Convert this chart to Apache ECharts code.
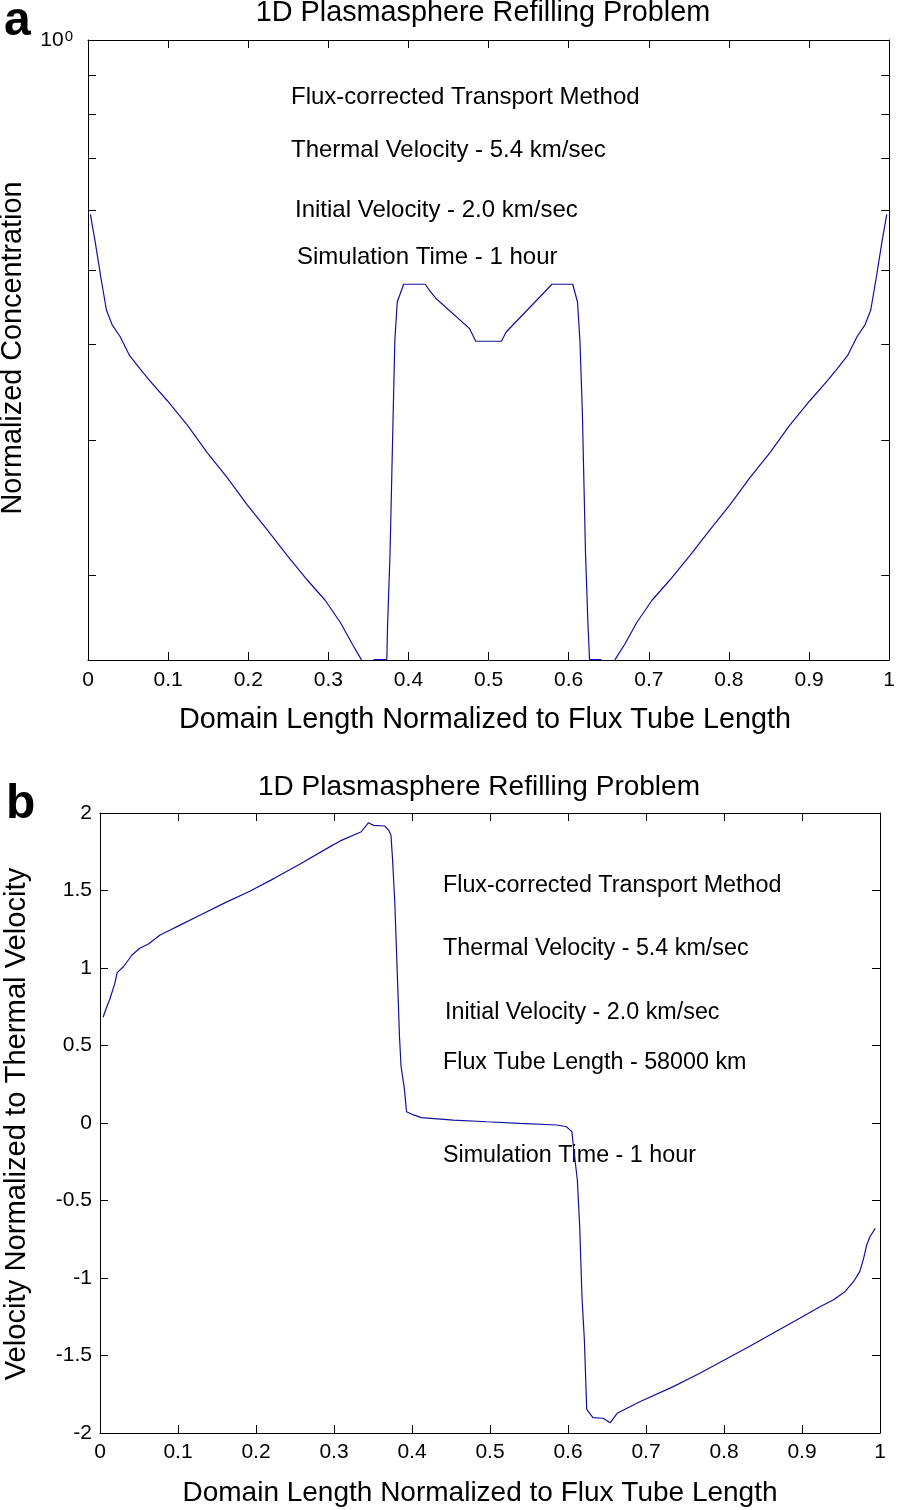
<!DOCTYPE html>
<html>
<head>
<meta charset="utf-8">
<title>1D Plasmasphere Refilling Problem</title>
<script src="https://cdn.jsdelivr.net/npm/echarts@6/dist/echarts.min.js"></script>
<style>
  html, body { margin: 0; padding: 0; background: #fff; }
  #main { width: 898px; height: 1510px; }
</style>
</head>
<body>
<div id="main"></div>
<script>
// panel a: normalized concentration along the flux tube (log scale)
const concX = [
  0.003, 0.009, 0.016, 0.023, 0.030, 0.040, 0.052, 0.065, 0.077, 0.099,
  0.124, 0.149, 0.174, 0.199, 0.224, 0.249, 0.274, 0.296, 0.315, 0.330,
  0.341, 0.350, 0.357, 0.373,
  0.374, 0.377, 0.379, 0.381, 0.383, 0.386, 0.394, 0.421, 0.426, 0.434,
  0.476, 0.484, 0.516, 0.522, 0.572, 0.579, 0.605, 0.611, 0.614, 0.617,
  0.619, 0.621, 0.624, 0.626, 0.640, 0.648, 0.658,
  0.670, 0.685, 0.704, 0.726, 0.751, 0.776, 0.801, 0.826, 0.851, 0.876,
  0.901, 0.923, 0.935, 0.948, 0.960, 0.970, 0.977, 0.984, 0.991, 0.997
];
const concY = [
  0.592, 0.545, 0.490, 0.444, 0.425, 0.410, 0.387, 0.372, 0.359, 0.338,
  0.314, 0.289, 0.268, 0.247, 0.229, 0.212, 0.197, 0.1855, 0.1735, 0.1625,
  0.1553, 0.120, 0.1552, 0.1552,
  0.173, 0.2136, 0.2644, 0.3283, 0.4055, 0.4548, 0.4798, 0.4798, 0.4712, 0.460,
  0.4202, 0.4042, 0.4042, 0.4156, 0.4712, 0.4798, 0.4798, 0.4548, 0.4055, 0.3283,
  0.2644, 0.2136, 0.173, 0.1552, 0.1552, 0.120, 0.1553,
  0.1625, 0.1735, 0.1855, 0.197, 0.212, 0.229, 0.247, 0.268, 0.289, 0.314,
  0.338, 0.359, 0.372, 0.387, 0.410, 0.425, 0.444, 0.490, 0.545, 0.592
];
const concMin = 0.155;
const concMax = 1;
const concTicks = [0.2, 0.3, 0.4, 0.5, 0.6, 0.7, 0.8, 0.9, 1];

// panel b: velocity normalized to thermal velocity
const velX = [
  0.004, 0.008, 0.013, 0.019, 0.022, 0.030, 0.041, 0.051, 0.062, 0.077,
  0.090, 0.100, 0.128, 0.160, 0.192, 0.224, 0.256, 0.295, 0.308, 0.335,
  0.344, 0.351, 0.365, 0.370, 0.373, 0.375, 0.378, 0.380, 0.382, 0.384,
  0.386, 0.390, 0.393, 0.402, 0.412, 0.453, 0.496, 0.538, 0.586, 0.598,
  0.605, 0.607, 0.612, 0.615, 0.618, 0.621, 0.623, 0.624, 0.632, 0.645,
  0.654, 0.663, 0.692, 0.735, 0.769, 0.833, 0.897, 0.923, 0.940, 0.955,
  0.966, 0.974, 0.979, 0.983, 0.987, 0.994
];
const velY = [
  0.682, 0.740, 0.805, 0.901, 0.970, 1.008, 1.084, 1.127, 1.155, 1.213,
  1.245, 1.270, 1.340, 1.420, 1.495, 1.580, 1.670, 1.783, 1.820, 1.879,
  1.937, 1.920, 1.916, 1.890, 1.858, 1.708, 1.417, 1.127, 0.841, 0.553,
  0.363, 0.230, 0.073, 0.052, 0.035, 0.019, 0.008, -0.002, -0.013, -0.024,
  -0.056, -0.153, -0.368, -0.669, -1.131, -1.400, -1.701, -1.847, -1.901, -1.905,
  -1.934, -1.873, -1.798, -1.701, -1.615, -1.440, -1.260, -1.185, -1.142, -1.088,
  -1.024, -0.959, -0.873, -0.787, -0.734, -0.680
];
const velMin = -2;
const velMax = 2;
const velStep = 0.5;

const xMin = 0;
const xMax = 1;
const xStep = 0.1;

const notesA = [
  "Flux-corrected Transport Method",
  "Thermal Velocity - 5.4 km/sec",
  "Initial Velocity - 2.0 km/sec",
  "Simulation Time - 1 hour"
];
const notesB = [
  "Flux-corrected Transport Method",
  "Thermal Velocity - 5.4 km/sec",
  "Initial Velocity - 2.0 km/sec",
  "Flux Tube Length - 58000 km",
  "Simulation Time - 1 hour"
];

const FONT = '"Liberation Sans", Arial, Helvetica, sans-serif';
const LINE_COLOR = "#1010a0";

// matlab-like box axes: ticks inside, no grid lines
function boxAxis(opts) {
  return Object.assign({
    type: "value",
    axisLine: { show: true, onZero: false, lineStyle: { color: "#000", width: 1 } },
    axisTick: { show: true, inside: true, length: 8, lineStyle: { color: "#000", width: 1 } },
    axisLabel: { show: false },
    splitLine: { show: false }
  }, opts);
}

function tickLabel(margin) {
  return { show: true, color: "#000", fontSize: 21, fontFamily: FONT, margin: margin };
}

function text(str, x, y, font, extra) {
  return Object.assign({
    type: "text",
    x: x,
    y: y,
    style: {
      text: str,
      font: font,
      fill: "#000",
      align: "left",
      textAlign: "left",
      verticalAlign: "middle",
      textVerticalAlign: "middle"
    }
  }, extra || {});
}

function centered(str, x, y, font, extra) {
  const t = text(str, x, y, font, extra);
  t.style.align = "center";
  t.style.textAlign = "center";
  return t;
}

const BIG_A = "28.8px " + FONT;
const BIG_B = "28px " + FONT;
const YNAME_B = "29.2px " + FONT;
const NOTE_A = "24px " + FONT;
const NOTE_B = "23.3px " + FONT;
const LETTER = "bold 48px " + FONT;

const logTicks = concTicks.map((v) => Math.log10(v));

const option = {
  animation: false,
  backgroundColor: "#fff",
  grid: [
    { left: 88, top: 40, width: 802, height: 620 },
    { left: 100, top: 813, width: 780, height: 620 }
  ],
  xAxis: [
    boxAxis({ gridIndex: 0, min: xMin, max: xMax, interval: xStep, position: "bottom", axisLabel: tickLabel(10) }),
    boxAxis({ gridIndex: 0, min: xMin, max: xMax, interval: xStep, position: "top" }),
    boxAxis({ gridIndex: 1, min: xMin, max: xMax, interval: xStep, position: "bottom", axisLabel: tickLabel(9) }),
    boxAxis({ gridIndex: 1, min: xMin, max: xMax, interval: xStep, position: "top" })
  ],
  yAxis: [
    boxAxis({
      gridIndex: 0,
      min: Math.log10(concMin),
      max: Math.log10(concMax),
      position: "left",
      axisTick: { show: true, inside: true, length: 8, lineStyle: { color: "#000" }, customValues: logTicks },
      axisLabel: {
        show: true,
        customValues: [0],
        margin: 15,
        formatter: () => "{b|10}{s|0}",
        rich: {
          b: { fontSize: 21, fontFamily: FONT, color: "#000", verticalAlign: "bottom", lineHeight: 21 },
          s: { fontSize: 15, fontFamily: FONT, color: "#000", verticalAlign: "top", lineHeight: 15, padding: [0, 0, 12, 1] }
        }
      }
    }),
    boxAxis({
      gridIndex: 0,
      min: Math.log10(concMin),
      max: Math.log10(concMax),
      position: "right",
      axisTick: { show: true, inside: true, length: 8, lineStyle: { color: "#000" }, customValues: logTicks }
    }),
    boxAxis({ gridIndex: 1, min: velMin, max: velMax, interval: velStep, position: "left", axisLabel: tickLabel(8) }),
    boxAxis({ gridIndex: 1, min: velMin, max: velMax, interval: velStep, position: "right" })
  ],
  series: [
    {
      type: "line",
      xAxisIndex: 0,
      yAxisIndex: 0,
      data: concX.map((x, i) => [x, Math.log10(concY[i])]),
      showSymbol: false,
      clip: true,
      lineStyle: { color: LINE_COLOR, width: 1.2 }
    },
    {
      type: "line",
      xAxisIndex: 2,
      yAxisIndex: 2,
      data: velX.map((x, i) => [x, velY[i]]),
      showSymbol: false,
      clip: true,
      lineStyle: { color: LINE_COLOR, width: 1.2 }
    }
  ],
  graphic: [
    text("a", 4, 22, LETTER),
    centered("1D Plasmasphere Refilling Problem", 483, 13, BIG_A),
    centered("Domain Length Normalized to Flux Tube Length", 485, 720, BIG_A),
    centered("Normalized Concentration", 13, 348, BIG_A, { rotation: Math.PI / 2 }),
    text(notesA[0], 291, 97, NOTE_A),
    text(notesA[1], 291, 150, NOTE_A),
    text(notesA[2], 295, 210, NOTE_A),
    text(notesA[3], 297, 257, NOTE_A),

    text("b", 6, 805, LETTER),
    centered("1D Plasmasphere Refilling Problem", 479, 787, BIG_B),
    centered("Domain Length Normalized to Flux Tube Length", 480, 1493, BIG_B),
    centered("Velocity Normalized to Thermal Velocity", 17, 1124, YNAME_B, { rotation: Math.PI / 2 }),
    text(notesB[0], 443, 886, NOTE_B),
    text(notesB[1], 443, 949, NOTE_B),
    text(notesB[2], 445, 1013, NOTE_B),
    text(notesB[3], 443, 1063, NOTE_B),
    text(notesB[4], 443, 1156, NOTE_B)
  ]
};

const chart = echarts.init(document.getElementById("main"));
chart.setOption(option);
</script>
</body>
</html>
